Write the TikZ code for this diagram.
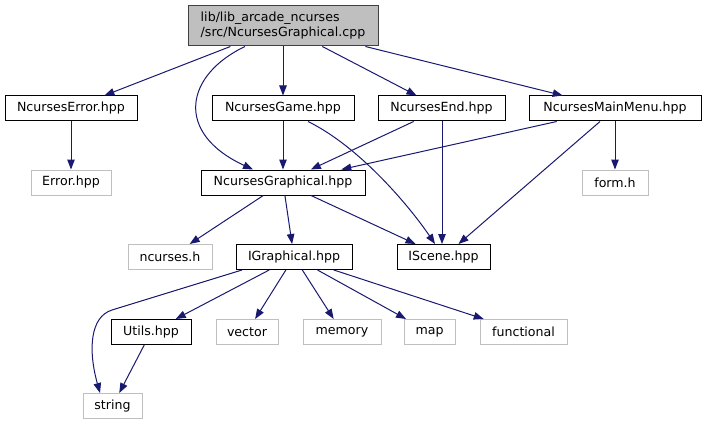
\documentclass[tikz,border=0pt]{standalone}
\usepackage{fontspec}
\setmainfont{DejaVu Sans}
\usepackage{tikz}
\usetikzlibrary{arrows.meta}

\definecolor{edgeblue}{HTML}{191970}
\definecolor{boxgray}{HTML}{BFBFBF}

\begin{document}
\begin{tikzpicture}[
    x=1pt, y=-1pt,
    every node/.style={font=\fontsize{12.6}{15}\selectfont, inner sep=0pt},
    incfile/.style={draw=black, line width=1pt, minimum height=25pt},
    sysfile/.style={draw=boxgray, line width=1pt, minimum height=25pt},
    rootfile/.style={draw=black!75, fill=boxgray, line width=1pt,
      minimum height=40pt, align=left},
    dep/.style={-{Triangle[length=10pt,width=7.5pt]}, line width=1pt, draw=edgeblue}
  ]
    \useasboundingbox (0,0) rectangle (706,425);
    % top level
    \node[rootfile, minimum width=190pt] (root) at (283,26) {lib/lib\_arcade\_ncurses\\/src/NcursesGraphical.cpp};
    % direct includes
    \node[incfile, minimum width=132pt] (err) at (71,108.5) {NcursesError.hpp};
    \node[incfile, minimum width=142pt] (game) at (283,108.5) {NcursesGame.hpp};
    \node[incfile, minimum width=127pt] (end) at (441.5,108.5) {NcursesEnd.hpp};
    \node[incfile, minimum width=172pt] (menu) at (615,108.5) {NcursesMainMenu.hpp};
    \node[sysfile, minimum width=80pt] (errh) at (71,182.5) {Error.hpp};
    \node[incfile, minimum width=164pt] (graph) at (283,182.5) {NcursesGraphical.hpp};
    \node[sysfile, minimum width=66pt] (form) at (615,182.5) {form.h};
    \node[sysfile, minimum width=84pt] (ncur) at (170,257) {ncurses.h};
    \node[incfile, minimum width=116pt] (igraph) at (294,257) {IGraphical.hpp};
    \node[incfile, minimum width=93pt] (iscene) at (443.5,257) {IScene.hpp};
    % bottom row
    \node[incfile, minimum width=80pt] (utils) at (151,332) {Utils.hpp};
    \node[sysfile, minimum width=62pt] (vector) at (247,332) {vector};
    \node[sysfile, minimum width=78pt] (memory) at (342,332) {memory};
    \node[sysfile, minimum width=51pt] (map) at (429.5,332) {map};
    \node[sysfile, minimum width=87pt] (func) at (523.5,332) {functional};
    \node[sysfile, minimum width=59pt] (string) at (112.5,406) {string};

    \draw[dep] (root) -- (err);
    \draw[dep] (root) -- (game);
    \draw[dep] (root) -- (end);
    \draw[dep] (root) -- (menu);
    \draw[dep] ([xshift=-38pt]root.south) .. controls (185,75) and (174,133) .. ([xshift=-30pt]graph.north);
    \draw[dep] (err) -- (errh);
    \draw[dep] (game) -- (graph);
    \draw[dep] ([xshift=25pt]game.south) .. controls (360,147) and (410,207) .. ([xshift=-8.5pt]iscene.north);
    \draw[dep] (end) -- (graph);
    \draw[dep] ([xshift=0.5pt]end.south) -- ([xshift=-1.5pt]iscene.north);
    \draw[dep] (menu) -- (graph);
    \draw[dep] (menu) -- (form);
    \draw[dep] (menu) -- (iscene);
    \draw[dep] (graph) -- (ncur);
    \draw[dep] (graph) -- (igraph);
    \draw[dep] (graph) -- (iscene);
    \draw[dep] (igraph) -- (utils);
    \draw[dep] (igraph) -- (vector);
    \draw[dep] (igraph) -- (memory);
    \draw[dep] (igraph) -- (map);
    \draw[dep] (igraph) -- (func);
    \draw[dep] ([xshift=-52pt]igraph.south) -- (112,310) .. controls (90,316.8) and (88,350) .. ([xshift=-12.5pt]string.north);
    \draw[dep] (utils) -- (string);
  \end{tikzpicture}
\end{document}
